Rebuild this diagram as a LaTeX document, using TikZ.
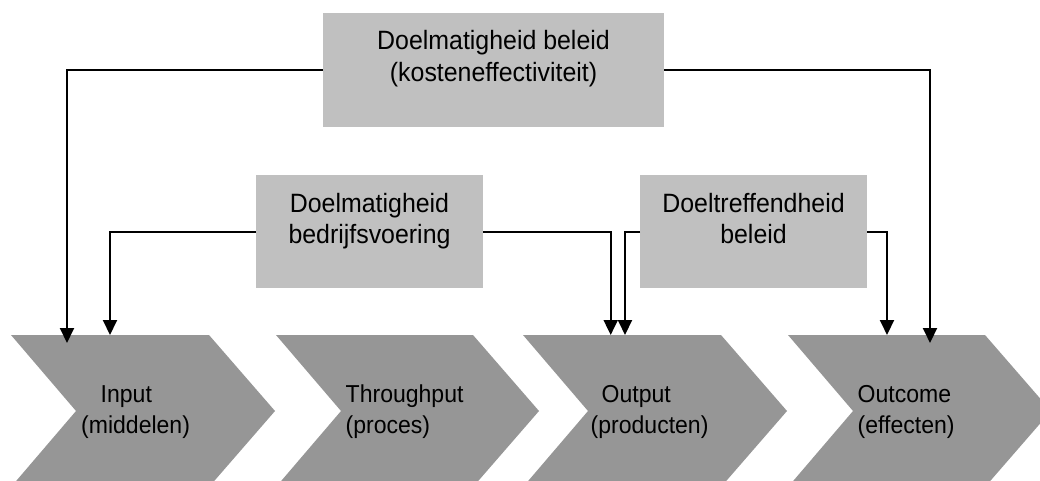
\documentclass[tikz,border=0pt]{standalone}
\usepackage{fontspec}
\setmainfont[FakeStretch=0.94]{Liberation Sans}
\usetikzlibrary{arrows.meta}
\definecolor{boxgray}{RGB}{192,192,192}
\definecolor{chevgray}{RGB}{150,150,150}
\begin{document}
\begin{tikzpicture}[x=1pt,y=-1pt,
  box/.style={fill=boxgray, draw=none, inner sep=0pt, outer sep=0pt},
  chev/.style={fill=chevgray, draw=none},
  boxtext/.style={inner sep=0pt, align=center, anchor=base,
    font=\fontsize{26.5}{31}\selectfont},
  chevtext/.style={inner sep=0pt, align=left, anchor=base west,
    font=\fontsize{24.5}{30.7}\selectfont},
  conn/.style={line width=2pt, -{Triangle[length=15pt,width=14pt]}}]
\useasboundingbox (0,0) rectangle (1040,481);
\clip (0,0) rectangle (1040,481);

% process chevrons
\fill[chev] (11,335) -- (209,335) -- (275,411) -- (209,487) -- (11,487) -- (76,411) -- cycle;
\fill[chev] (276,335) -- (473,335) -- (539,411) -- (473,487) -- (276,487) -- (341,411) -- cycle;
\fill[chev] (523,335) -- (721,335) -- (787,411) -- (721,487) -- (523,487) -- (588,411) -- cycle;
\fill[chev] (788,335) -- (985,335) -- (1051,411) -- (985,487) -- (788,487) -- (853,411) -- cycle;

% labels, placed by the baseline of their last line
\node[chevtext] (input) at (81,433.4) {\hspace*{19.5pt}Input\\(middelen)};
\node[chevtext] (through) at (345.5,433.4) {Throughput\\(proces)};
\node[chevtext] (output) at (590.5,433.4) {\hspace*{11pt}Output\\(producten)};
\node[chevtext] (outcome) at (857.5,433.4) {Outcome\\(effecten)};

% criteria boxes
\node[box, minimum width=341pt, minimum height=114pt] (top) at (493.5,70) {};
\node[box, minimum width=227pt, minimum height=113pt] (bedr) at (369.5,231.5) {};
\node[box, minimum width=227pt, minimum height=113pt] (doel) at (753.5,231.5) {};

\node[boxtext, font=\fontsize{26.5}{32}\selectfont] (toptext) at (493.5,81.5)
  {Doelmatigheid beleid\\(kosteneffectiviteit)};
\node[boxtext] (bedrtext) at (369.5,243.3) {Doelmatigheid\\bedrijfsvoering};
\node[boxtext] (doeltext) at (753.5,243.3) {Doeltreffendheid\\beleid};

% arrow end points on the chevrons
\coordinate (inA) at (67,343);
\coordinate (inB) at (110,335);
\coordinate (outA) at (610.7,335);
\coordinate (outB) at (625,335);
\coordinate (ocA) at (887,335);
\coordinate (ocB) at (930,343);

\draw[conn] (top.west) -| (inA);
\draw[conn] (top.east) -| (ocB);
\draw[conn] (bedr.west) -| (inB);
\draw[conn] (bedr.east) -| (outA);
\draw[conn] (doel.west) -| (outB);
\draw[conn] (doel.east) -| (ocA);
\end{tikzpicture}
\end{document}
